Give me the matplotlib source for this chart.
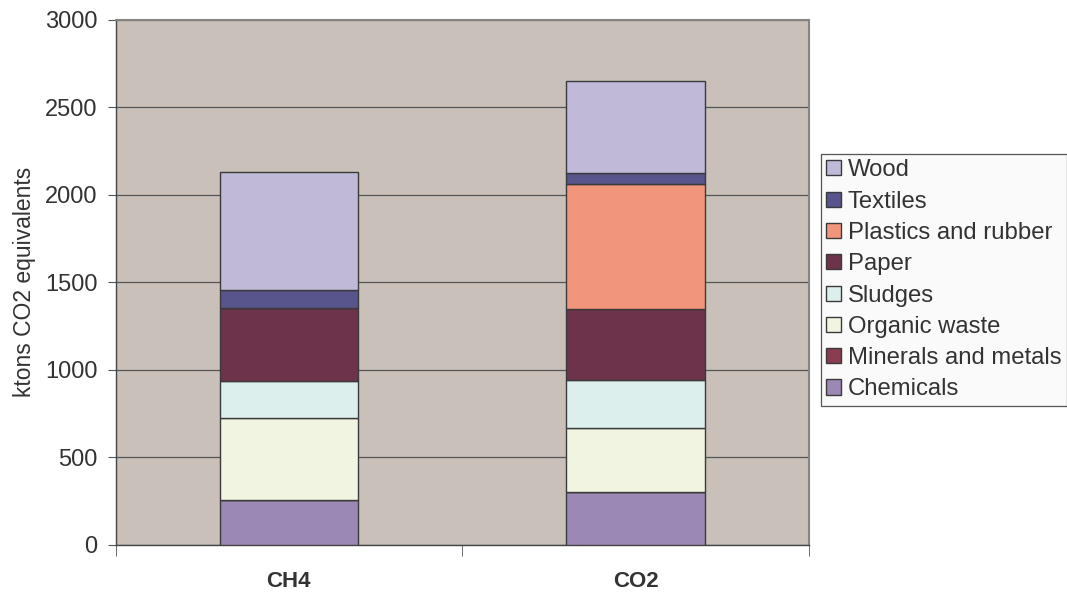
import numpy as np
import matplotlib.pyplot as plt

plt.rcParams['font.family'] = ['Liberation Sans', 'DejaVu Sans']

gases = ['CH4', 'CO2']

# ktons CO2 equivalents per waste stream, bottom to top
chemicals = [257, 300]
minerals_metals = [0, 0]
organic_waste = [467, 367]
sludges = [210, 274]
paper = [418, 409]
plastics_rubber = [0, 709]
textiles = [103, 67]
wood = [675, 527]

layers = [
    ('Chemicals', chemicals, '#9c88b4'),
    ('Minerals and metals', minerals_metals, '#8c3c50'),
    ('Organic waste', organic_waste, '#f1f4e0'),
    ('Sludges', sludges, '#dcefed'),
    ('Paper', paper, '#6c334b'),
    ('Plastics and rubber', plastics_rubber, '#f1967c'),
    ('Textiles', textiles, '#58548c'),
    ('Wood', wood, '#c0b9d8'),
]

fig = plt.figure(figsize=(10.67, 5.97), dpi=100)
ax = fig.add_axes([0.1083, 0.0874, 0.6497, 0.8794])
ax.set_facecolor('#c8c0b9')

x = np.arange(len(gases))
bottom = np.zeros(len(gases))
for name, vals, color in layers:
    vals = np.array(vals, dtype=float)
    ax.bar(x, vals, width=0.4, bottom=bottom, color=color,
           edgecolor='#3a3a3a', linewidth=1.0, label=name, zorder=3)
    bottom += vals

ax.set_xlim(-0.5, 1.5)
ax.set_ylim(0, 3000)
ax.set_yticks(np.arange(0, 3001, 500))
ax.yaxis.grid(True, color='#555555', linewidth=0.9, zorder=1)
ax.set_axisbelow(True)

# category labels centred, tick marks on the category boundaries
ax.set_xticks(x)
ax.set_xticklabels(gases, fontsize=16, fontweight='bold', color='#333333')
ax.tick_params(axis='x', which='major', length=0, pad=19)
ax.set_xticks([-0.5, 0.5, 1.5], minor=True)
ax.tick_params(axis='x', which='minor', length=8, direction='out', color='#555555')
ax.tick_params(axis='y', length=6, direction='out', color='#555555',
               labelsize=17, labelcolor='#333333', pad=7)

for side in ['left', 'bottom']:
    ax.spines[side].set_color('#444444')
    ax.spines[side].set_linewidth(1.0)
for side in ['top', 'right']:
    ax.spines[side].set_color('#8a8480')
    ax.spines[side].set_linewidth(1.5)

ax.set_ylabel('ktons CO2 equivalents', fontsize=16.5, color='#333333')
ax.yaxis.set_label_coords(-0.115, 0.5)

handles, labels = ax.get_legend_handles_labels()
leg = fig.legend(handles[::-1], labels[::-1], loc='upper left',
                 bbox_to_anchor=(0.7695, 0.742), fontsize=17.2,
                 frameon=True, fancybox=False, edgecolor='#555555',
                 facecolor='#fafafa', framealpha=1.0,
                 handlelength=0.6, handleheight=0.6, handletextpad=0.3,
                 labelspacing=0.39, borderpad=0.22, borderaxespad=0)
leg.get_frame().set_linewidth(0.9)
for t in leg.get_texts():
    t.set_color('#333333')

fig.savefig('out.png', dpi=100)
